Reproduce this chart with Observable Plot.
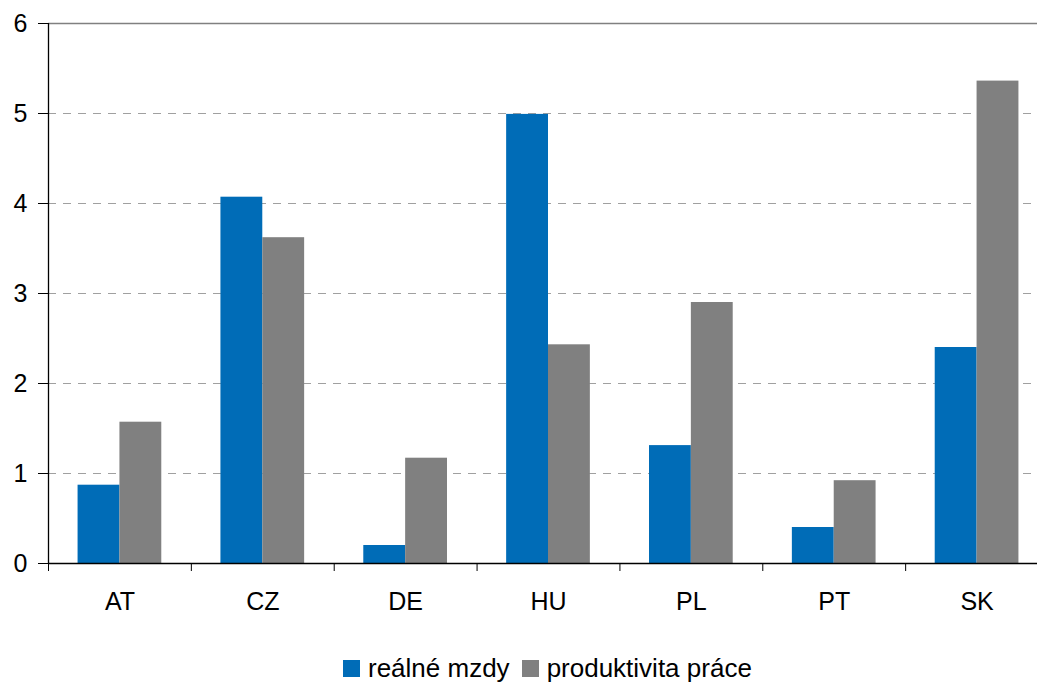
<!DOCTYPE html>
<html>
<head>
<meta charset="utf-8">
<script src="https://cdn.jsdelivr.net/npm/d3@7"></script>
<script src="https://cdn.jsdelivr.net/npm/@observablehq/plot@0.6"></script>
<style>
  html, body { margin: 0; padding: 0; background: #fff; overflow: hidden; width: 1037px; height: 682px; }
  #chart { position: absolute; left: 0; top: 0; }
  #chart svg { overflow: hidden; }
  #legend { position: absolute; left: 343px; top: 655px; height: 26px; display: flex; align-items: center;
    font-family: "Liberation Sans", Arial, sans-serif; font-size: 26px; color: #000; white-space: nowrap; }
  .sw { width: 17px; height: 17px; display: inline-block; margin-right: 8px; }
  .item { display: flex; align-items: center; margin-right: 12px; }
</style>
</head>
<body>
<div id="chart"></div>
<div id="legend"></div>
<script>
const countries = ["AT", "CZ", "DE", "HU", "PL", "PT", "SK"];
const realWages = [0.87, 4.07, 0.20, 4.99, 1.31, 0.40, 2.40];
const productivity = [1.57, 3.62, 1.17, 2.43, 2.90, 0.92, 5.36];
const seriesNames = ["reálné mzdy", "produktivita práce"];
const seriesColors = ["#006CB7", "#808080"];
const yTicks = [0, 1, 2, 3, 4, 5, 6];

const data = [];
countries.forEach((c, i) => {
  data.push({country: c, i, series: seriesNames[0], value: realWages[i], k: 0});
  data.push({country: c, i, series: seriesNames[1], value: productivity[i], k: 1});
});
const pad = 0.207;
const half = (1 - 2 * pad) / 2;

const chart = Plot.plot({
  width: 1037,
  height: 640,
  marginLeft: 48,
  marginRight: 0,
  marginTop: 23,
  marginBottom: 77,
  style: {fontFamily: "Liberation Sans, Arial, sans-serif", fontSize: "25px", color: "#000", background: "#fff"},
  x: {domain: [0, countries.length], range: [48, 1048], axis: null},
  y: {domain: [0, 6], axis: null},
  color: {domain: seriesNames, range: seriesColors},
  marks: [
    Plot.ruleY([1, 2, 3, 4, 5], {stroke: "#a0a0a0", strokeDasharray: "8,7", strokeWidth: 1}),
    Plot.ruleY([6], {stroke: "#808080", strokeWidth: 1.3}),
    Plot.rectY(data, {
      x1: d => d.i + pad + d.k * half,
      x2: d => d.i + pad + (d.k + 1) * half,
      y1: 0,
      y2: "value",
      fill: "series"
    }),
    Plot.axisY({ticks: yTicks, tickSize: 10, tickPadding: 11, fontSize: 25, stroke: "#000", tickFormat: "d", label: null}),
    Plot.ruleX([0], {stroke: "#000", strokeWidth: 1.3}),
    Plot.ruleY([0], {stroke: "#000", strokeWidth: 1.3}),
    Plot.axisX({ticks: d3.range(countries.length + 1), tickSize: 8, tickFormat: () => "", stroke: "#000", label: null}),
    Plot.axisX({ticks: countries.map((_, i) => i + 0.5), tickSize: 0, tickPadding: 29, tickFormat: d => countries[Math.floor(d)], fontSize: 25, label: null})
  ]
});
document.getElementById("chart").appendChild(chart);

const legend = document.getElementById("legend");
seriesNames.forEach((n, i) => {
  const it = document.createElement("span");
  it.className = "item";
  const sw = document.createElement("span");
  sw.className = "sw";
  sw.style.background = seriesColors[i];
  it.appendChild(sw);
  it.appendChild(document.createTextNode(n));
  legend.appendChild(it);
});
</script>
</body>
</html>
